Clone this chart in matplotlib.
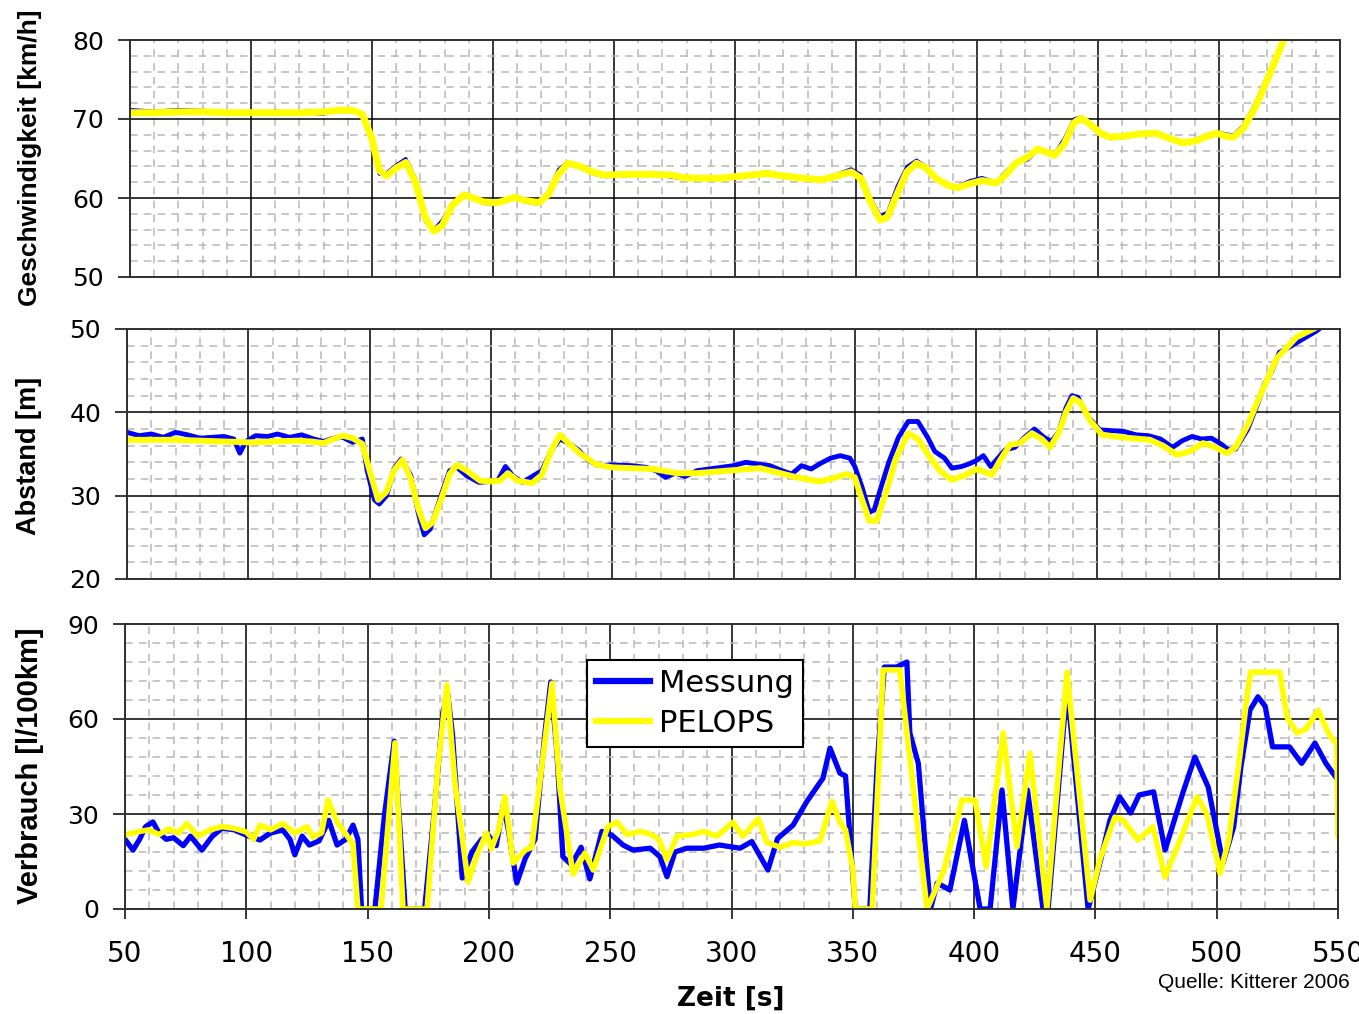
import matplotlib.pyplot as plt
from matplotlib.ticker import MultipleLocator

# --- Geschwindigkeit [km/h] ---
t_speed = [50, 60, 70, 80, 90, 100, 110, 120, 130, 136, 142, 146, 150, 153, 156, 160, 164, 168, 172,
           175.5, 179, 183, 188, 192, 196, 202, 206, 209, 213, 219, 223, 227, 231, 236, 241, 246, 255,
           265, 274, 278, 285, 294, 303, 313, 320, 328, 336, 342, 348, 352, 356, 360, 363, 367, 371,
           375, 379, 383, 388, 392, 397, 402, 408, 412, 416, 421, 425, 429, 432, 436, 440, 443, 447,
           451, 455, 460, 467, 474, 479, 485, 490, 495, 499, 503, 506, 510, 515, 520, 527, 532]
speed_pelops = [70.8, 70.8, 70.9, 70.9, 70.8, 70.8, 70.8, 70.8, 70.9, 71.1, 71.1, 70.6, 67.5, 63.5,
                62.8, 63.8, 64.5, 62.0, 57.5, 55.8, 56.5, 59.0, 60.4, 60.0, 59.5, 59.4, 59.8, 60.1,
                59.7, 59.4, 60.5, 63.0, 64.4, 64.0, 63.3, 62.9, 63.0, 63.0, 62.9, 62.6, 62.5, 62.5,
                62.8, 63.1, 62.8, 62.5, 62.3, 62.8, 63.3, 62.5, 59.5, 57.2, 57.6, 60.5, 63.3, 64.4,
                63.8, 62.5, 61.6, 61.3, 61.8, 62.2, 61.9, 63.0, 64.4, 65.2, 66.2, 65.8, 65.4, 66.8,
                69.5, 70.1, 69.3, 68.2, 67.7, 67.8, 68.1, 68.2, 67.6, 67.0, 67.2, 67.8, 68.2, 67.8,
                67.7, 68.8, 71.5, 75.0, 80.2, 83.0]
speed_mess = [71.2, 71.0, 71.2, 71.1, 70.9, 70.7, 71.0, 70.8, 70.6, 71.3, 71.0, 70.4, 67.0, 63.0,
              63.2, 64.2, 65.0, 62.5, 57.0, 56.0, 57.2, 59.3, 60.6, 59.9, 59.3, 59.2, 59.7, 60.2,
              59.5, 59.2, 60.8, 63.6, 64.6, 63.8, 63.1, 62.7, 62.8, 63.2, 62.6, 62.5, 62.5, 62.6,
              62.9, 63.3, 62.9, 62.4, 62.2, 63.0, 63.7, 63.0, 60.0, 57.8, 58.2, 61.5, 64.0, 64.8,
              64.0, 62.3, 61.5, 61.5, 62.2, 62.6, 62.0, 63.4, 64.5, 64.8, 66.0, 66.0, 65.6, 67.5,
              70.0, 70.3, 69.0, 68.0, 67.5, 67.6, 68.0, 68.3, 67.8, 66.8, 67.3, 68.0, 68.4, 68.1,
              68.0, 69.2, 72.0, 75.5, 80.5, 83.0]

# --- Abstand [m] ---
t_dist_pelops = [50, 60, 70, 80, 90, 100, 110, 120, 126, 131, 135, 139, 143, 147, 150, 153.5, 157,
                 160, 163.5, 167, 170, 173, 176, 180, 183, 186, 190, 195.5, 200, 203.7, 207, 211,
                 217, 221, 225, 228.5, 232, 237, 243.7, 250, 258, 266.8, 276.7, 285, 293, 302, 311,
                 318, 326, 335.6, 341, 346.8, 350, 353, 356, 359, 363, 367, 372, 376, 380, 385, 390,
                 395, 400.4, 406.5, 410, 414, 418, 423, 427, 430.5, 434, 437, 440, 443, 447, 452,
                 460, 471.7, 477, 482.8, 488, 493.5, 498, 503.4, 507, 512, 517, 524, 532, 539.7, 545]
dist_pelops = [36.7, 36.7, 36.7, 36.6, 36.5, 36.4, 36.5, 36.6, 36.5, 36.3, 36.8, 37.2, 36.9, 36.2,
               33.0, 29.5, 30.5, 33.0, 34.3, 32.0, 28.5, 26.1, 26.8, 30.0, 32.6, 33.7, 33.0, 31.8,
               31.7, 31.8, 32.7, 31.8, 31.5, 32.5, 35.5, 37.3, 36.3, 35.0, 33.7, 33.4, 33.3, 33.2,
               32.7, 32.7, 32.9, 33.1, 33.3, 32.8, 32.2, 31.7, 32.1, 32.6, 32.2, 29.5, 27.0, 27.0,
               30.5, 34.5, 37.5, 36.8, 35.0, 33.0, 31.9, 32.4, 33.2, 32.5, 34.3, 36.1, 36.3, 37.5,
               36.8, 35.8, 37.5, 40.0, 41.7, 41.2, 39.0, 37.3, 37.0, 36.7, 36.0, 34.9, 35.3, 36.3,
               35.9, 35.1, 35.8, 38.5, 42.0, 46.5, 49.0, 50.1, 51.0]
t_dist_mess = [50, 55, 60, 65, 70, 75, 80, 85, 90, 94, 96.5, 99, 103, 108, 112, 117, 122, 127, 131,
               135, 139, 143, 147, 149, 152, 154, 157, 160, 163, 167, 170, 172.5, 175, 180, 183, 186,
               190, 195, 200, 203, 206, 209, 213, 217, 221, 225, 228.5, 232, 236, 240, 244, 250, 258,
               264, 268, 272, 276, 280, 285, 290, 295, 300, 305, 310, 315, 320, 324, 328, 332, 336,
               340, 344, 348, 350, 353, 356, 358, 361, 364, 368, 372, 376, 380, 383, 387, 390, 394,
               397, 400, 403, 406, 409, 412, 416, 420, 424, 428, 431, 434, 437, 439.5, 442, 446, 451,
               456, 461, 466, 471, 476, 481, 485, 489, 493, 497, 501, 504, 507, 512, 516, 519, 522,
               525, 529, 533, 537, 540, 545]
dist_mess = [37.6, 37.2, 37.4, 37.0, 37.6, 37.3, 36.9, 37.0, 37.1, 36.8, 35.1, 36.5, 37.2, 37.1,
             37.4, 37.0, 37.3, 36.8, 36.5, 36.9, 37.0, 36.4, 36.8, 33.0, 29.5, 29.0, 30.0, 33.2,
             34.4, 32.4, 28.0, 25.3, 26.0, 30.5, 33.0, 33.4, 32.4, 31.6, 31.7, 31.9, 33.5, 32.4,
             31.6, 32.3, 33.0, 35.5, 36.8, 36.3, 35.5, 34.3, 33.6, 33.7, 33.6, 33.4, 33.0, 32.2,
             32.7, 32.3, 33.0, 33.2, 33.4, 33.6, 34.0, 33.8, 33.6, 33.0, 32.6, 33.6, 33.2, 33.9,
             34.5, 34.8, 34.5, 33.5, 31.0, 28.0, 28.3, 31.2, 34.0, 37.0, 38.9, 38.9, 37.0, 35.3,
             34.5, 33.3, 33.5, 33.8, 34.2, 34.8, 33.5, 34.5, 35.5, 35.8, 37.0, 38.0, 37.0, 36.5,
             37.6, 40.5, 42.0, 41.8, 39.5, 37.9, 37.8, 37.7, 37.3, 37.2, 36.8, 35.8, 36.6, 37.1,
             36.8, 36.9, 36.2, 35.5, 35.6, 38.0, 41.0, 43.5, 45.0, 47.2, 47.8, 48.5, 49.2, 49.7, 50.8]

# --- Verbrauch [l/100km] ---
t_fuel_pelops = [50, 53, 56, 60, 64, 68, 72, 75.5, 80, 85, 90, 95, 100, 103, 105.6, 110, 115, 120,
                 125, 127.5, 131, 133.7, 137.4, 141.5, 144, 146, 155.5, 161.3, 164.6, 174.5, 179,
                 182.7, 186, 191.4, 195, 199, 201, 204, 206.6, 210, 215, 217.7, 221, 226, 229.3,
                 234.7, 239.6, 243, 249, 252.8, 257, 262.3, 266.5, 270, 273.4, 277.5, 284, 288.5,
                 294, 300.6, 304.7, 311, 314.6, 320, 325.4, 330, 336.5, 341.4, 344.7, 347, 350, 351,
                 358, 362.5, 369.4, 380.6, 387.6, 395, 400.4, 405, 412, 417.7, 423, 430, 438.3,
                 447.8, 452, 458, 461.5, 467.5, 473.7, 478.7, 485, 491.9, 496, 501.4, 505, 509, 513,
                 514, 526, 529, 533, 537, 541.8, 546, 549.5, 550]
fuel_pelops = [23.4, 24.0, 24.5, 25.0, 23.5, 25.3, 24.0, 27.0, 23.0, 25.0, 26.0, 25.5, 24.3, 22.0,
               26.5, 25.0, 27.0, 24.0, 26.0, 22.7, 24.0, 34.4, 27.5, 23.2, 20.5, 0, 0, 52.5, 0, 0,
               45, 70.7, 40, 8.5, 17, 24, 19, 25, 35.5, 14.5, 18.6, 19.5, 40, 71.3, 38, 11, 17.7,
               12.3, 26, 27.4, 23.5, 24.5, 23.7, 22, 15.5, 23, 23.5, 24.5, 23, 27.4, 23, 28.5, 21,
               19.5, 21, 20.5, 21.5, 34, 27.4, 25, 12.5, 0, 0, 75.5, 75.5, 0, 12.3, 34.4, 34.4,
               13.3, 55.6, 19.6, 49.2, 0, 74.8, 2.8, 16, 29, 28, 21.8, 26, 10.1, 22, 35.4, 30, 11.3,
               22, 45, 70, 74.8, 74.8, 60.6, 55.6, 57, 62.8, 55.6, 52, 23]
t_fuel_mess = [50, 53.3, 56, 58.5, 61.5, 64, 67, 70, 74, 77, 81.7, 86, 90, 95, 98, 101, 105.6, 110,
               115, 118, 120, 123, 126, 130, 134, 137.4, 141, 144, 146, 147.5, 153, 157, 161, 165.5,
               173.5, 178, 181, 183, 185, 189, 193, 197, 200, 203, 206, 208, 211.5, 215, 219, 223,
               225.5, 228, 230.5, 234, 238, 241.6, 246.6, 250.7, 255.3, 259.4, 266.5, 270.5, 273.4,
               276.7, 281.6, 288.5, 295, 303.5, 308.4, 315, 319, 325.4, 331, 337.7, 340.6, 344.7,
               347, 351, 357, 360, 363, 368, 372.3, 373.5, 377, 382, 384.8, 390, 396, 402.5, 406.6,
               411.5, 416, 422, 428.4, 430.5, 438.3, 447, 452, 456, 460, 464.5, 468, 474, 478.7,
               486, 491, 496.5, 502.6, 507, 510, 513.7, 517, 520, 523, 530, 535, 540.5, 545, 550]
fuel_mess = [22, 18.6, 22, 26, 27.5, 24, 22, 22.5, 20, 23, 18.6, 23, 25.5, 25, 24, 23, 21.8, 24, 25,
             22, 17.1, 23, 20.2, 21.5, 28, 20.2, 22, 26.5, 22, 0, 0, 30, 53, 0, 0, 35, 62, 68, 55,
             9.8, 18, 22, 23, 20, 33, 25, 8.2, 16, 22, 55, 71.7, 50, 16.5, 14, 19.5, 9.5, 24.5,
             23.3, 20.2, 18.6, 19.2, 16.5, 10.2, 18, 19.2, 19.2, 20.2, 19.2, 21.3, 12.3, 22.3,
             26.5, 33.9, 41.3, 50.8, 42.9, 42, 0, 0, 45, 76.4, 76.4, 78, 55.6, 46, 0, 8.2, 6, 28,
             0, 0, 37.6, 0, 37.6, 0, 0, 70, 0, 15, 28, 35.4, 30.3, 36, 37, 18.6, 36.6, 48, 38.5,
             14.5, 26, 45, 62.8, 67, 64, 51.2, 51.2, 46, 52.4, 46, 40.7]

BLUE = "#0000ff"
YELLOW = "#ffff00"

W, H = 1359, 1014
fig = plt.figure(figsize=(W / 100, H / 100), dpi=100)


def px_axes(left, top, right, bottom):
    return fig.add_axes([left / W, 1 - bottom / H, (right - left) / W, (bottom - top) / H])


def style(ax, ylim, ymajor, yminor):
    ax.set_xlim(50, 550)
    ax.set_ylim(*ylim)
    ax.xaxis.set_major_locator(MultipleLocator(50))
    ax.xaxis.set_minor_locator(MultipleLocator(10))
    ax.yaxis.set_major_locator(MultipleLocator(ymajor))
    ax.yaxis.set_minor_locator(MultipleLocator(yminor))
    ax.grid(which="major", color="black", lw=1.1)
    ax.grid(which="minor", color="#b8b8b8", lw=1.1, ls=(0, (5, 4)))
    ax.set_axisbelow(True)
    for sp in ax.spines.values():
        sp.set_color("#303030")
        sp.set_linewidth(1.4)
    ax.tick_params(which="minor", length=0)
    ax.tick_params(axis="y", which="major", direction="out", length=8.6, width=1.1,
                   pad=10, labelsize=18)
    ax.tick_params(axis="x", which="major", length=0, labelbottom=False)


ax1 = px_axes(130, 40, 1340, 277)
ax2 = px_axes(127, 329, 1340, 579)
ax3 = px_axes(125, 624, 1338, 909)

style(ax1, (50, 80), 10, 2)
style(ax2, (20, 50), 10, 2)
style(ax3, (0, 90), 30, 6)
ax3.tick_params(axis="x", which="major", direction="out", length=7, width=1.1,
                pad=15, labelsize=20, labelbottom=True)

ax1.plot(t_speed, speed_mess, color=BLUE, lw=2.2)
ax1.plot(t_speed, speed_pelops, color=YELLOW, lw=5)

ax2.plot(t_dist_mess, dist_mess, color=BLUE, lw=3.5)
ax2.plot(t_dist_pelops, dist_pelops, color=YELLOW, lw=4.3)

ax3.plot(t_fuel_mess, fuel_mess, color=BLUE, lw=3.8, label="Messung")
ax3.plot(t_fuel_pelops, fuel_pelops, color=YELLOW, lw=4.0, label="PELOPS")

leg = ax3.legend(loc="upper left",
                 bbox_to_anchor=((587 - 125) / 1213, (909 - 660) / 285),
                 borderaxespad=0, fancybox=False, framealpha=1, edgecolor="black",
                 prop={"family": "DejaVu Sans", "size": 22}, handlelength=1.75,
                 handletextpad=0.3, labelspacing=0.35, borderpad=0.3)
leg.get_frame().set_linewidth(1.5)
for line in leg.get_lines():
    line.set_linewidth(4.5)

label_font = {"family": "Liberation Sans", "weight": "bold"}
fig.text(30 / W, 1 - 158 / H, "Geschwindigkeit [km/h]", rotation=90, ha="center", va="center",
         fontsize=19, **label_font)
fig.text(29 / W, 1 - 456 / H, "Abstand [m]", rotation=90, ha="center", va="center",
         fontsize=19.5, **label_font)
fig.text(30 / W, 1 - 766 / H, "Verbrauch [l/100km]", rotation=90, ha="center", va="center",
         fontsize=21, **label_font)

fig.text(731 / W, 1 - 986 / H, "Zeit [s]", ha="center", va="top", fontsize=19,
         family="DejaVu Sans", weight="bold")
fig.text(1350 / W, 1 - 988 / H, "Quelle: Kitterer 2006", ha="right", va="baseline",
         fontsize=15, family="Liberation Sans")

fig.savefig("out.png", dpi=100)
